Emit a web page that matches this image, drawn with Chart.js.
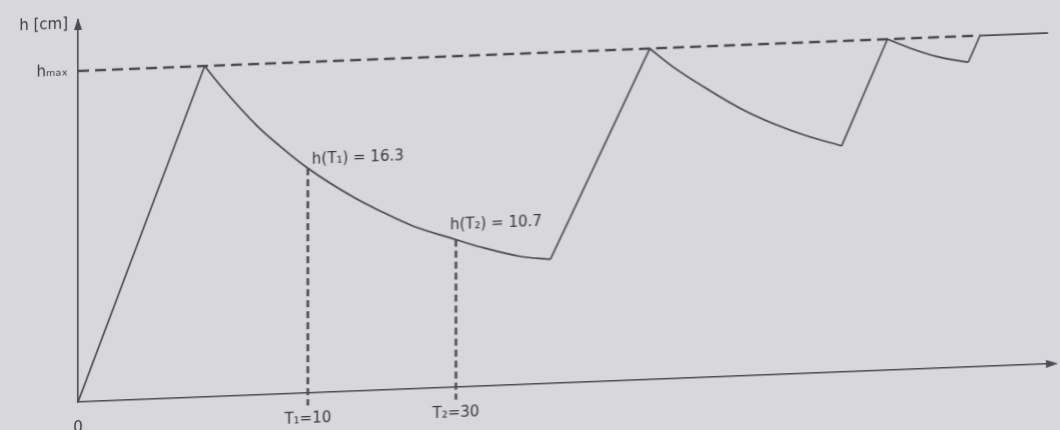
<!DOCTYPE html>
<html>
<head>
<meta charset="utf-8">
<script src="https://cdn.jsdelivr.net/npm/chart.js@4.4.1/dist/chart.umd.min.js"></script>
<style>
  html, body { margin: 0; width: 1060px; height: 430px; overflow: hidden; background: #d8d8dc; }
  /* the scan is slightly sheared: horizontals rise to the right, verticals stay vertical */
  #c { position: absolute; left: 0; top: 0; transform: skewY(-2.25deg); transform-origin: 78px 402px; }
</style>
</head>
<body>
<canvas id="c" width="1060" height="470"></canvas>
<script>
// water level h (cm) over schematic time axis (0..100 = axis length)
const curveT = [0, 13.0, 14.9, 18.4, 20.7, 23.6, 28.2, 31.0, 34.4, 38.8, 41.3, 45.4, 48.5,
                58.7, 61.1, 64.6, 68.0, 71.4, 74.9, 78.4,
                83.1, 85.4, 88.2, 91.4, 92.6, 99.6];
const curveH = [0, 24, 22.3, 19.5, 18.0, 16.3, 14.1, 13.0, 11.8, 10.7, 10.1, 9.3, 9.0,
                24, 22.6, 20.9, 19.4, 18.2, 17.2, 16.4,
                24, 23.3, 22.6, 22.1, 24, 24];

// h_max level and where the dashed line ends
const hMax = 24;
const hMaxEnd = 92.6;

// marked times T1, T2 and their levels
const tMarks = [23.6, 38.8];
const hMarks = [16.3, 10.7];
const markNames = ['T₁', 'T₂'];

// tick labels
const xTickVals = [0, ...tMarks];
const xTickLabels = ['0', 'T₁=10', 'T₂=30'];
const yTickVals = [hMax, 27.4];
const yTickLabels = ['hₘₐₓ', 'h [cm]'];

const lineColor = '#4b4b54';
const textColor = '#38383f';

// split the sawtooth into falling (curved) and rising (straight) pieces
const decayPts = [], risePts = [];
for (let i = 0; i < curveT.length - 1; i++) {
  const a = { x: curveT[i], y: curveH[i] }, b = { x: curveT[i + 1], y: curveH[i + 1] };
  const target = curveH[i + 1] < curveH[i] ? decayPts : risePts;
  const last = target[target.length - 1];
  if (last && last.x === a.x && last.y === a.y) target.push(b);
  else {
    if (last) target.push({ x: a.x, y: null });
    target.push(a, b);
  }
}

const markLines = [];
tMarks.forEach((t, i) => {
  markLines.push({
    data: [{ x: t, y: hMarks[i] }, { x: t, y: -0.9 }],
    borderColor: lineColor, borderWidth: 2.6, borderDash: [7, 4],
    pointRadius: 0, clip: false
  });
});

// notes, arrowheads
const extras = {
  id: 'extras',
  afterDraw(chart) {
    const { ctx, scales: { x, y } } = chart;
    ctx.save();
    ctx.fillStyle = textColor;
    ctx.font = '15px "DejaVu Sans"';
    ctx.textBaseline = 'middle';
    const dx = [4, -6], dy = [-8, -14];
    tMarks.forEach((t, i) => {
      ctx.fillText(`h(${markNames[i]}) = ${hMarks[i]}`, x.getPixelForValue(t) + dx[i], y.getPixelForValue(hMarks[i]) + dy[i]);
    });

    ctx.fillStyle = lineColor;
    // x arrow
    const ax = x.getPixelForValue(100), ay = y.getPixelForValue(0);
    ctx.beginPath();
    ctx.moveTo(ax + 6, ay); ctx.lineTo(ax - 6, ay - 4); ctx.lineTo(ax - 6, ay + 4); ctx.closePath(); ctx.fill();
    // y arrow
    const bx = x.getPixelForValue(0), by = y.getPixelForValue(y.max);
    ctx.beginPath();
    ctx.moveTo(bx, by - 2); ctx.lineTo(bx - 4, by + 10); ctx.lineTo(bx + 4, by + 10); ctx.closePath(); ctx.fill();
    ctx.restore();
  }
};

Chart.defaults.font.family = '"DejaVu Sans", sans-serif';
Chart.defaults.color = textColor;

new Chart(document.getElementById('c'), {
  type: 'line',
  data: {
    datasets: [
      { data: [{ x: 0, y: hMax }, { x: hMaxEnd, y: hMax }], borderColor: lineColor, borderWidth: 2.6, borderDash: [11, 6], pointRadius: 0 },
      ...markLines,
      { data: decayPts, borderColor: lineColor, borderWidth: 1.7, pointRadius: 0, cubicInterpolationMode: 'monotone', spanGaps: false },
      { data: risePts, borderColor: lineColor, borderWidth: 1.7, pointRadius: 0, tension: 0, spanGaps: false }
    ]
  },
  options: {
    responsive: false,
    devicePixelRatio: 1,
    animation: false,
    layout: { padding: { left: 0, right: 8, top: 20, bottom: 0 } },
    plugins: { legend: { display: false }, tooltip: { enabled: false } },
    scales: {
      x: {
        type: 'linear', min: 0, max: 100,
        grid: { display: false, drawTicks: false },
        border: { color: lineColor, width: 1.6 },
        afterFit: s => { s.height = 68; },
        afterBuildTicks: s => { s.ticks = xTickVals.map(v => ({ value: v })); },
        ticks: {
          autoSkip: false, maxRotation: 0, padding: 17,
          font: { size: 15 },
          callback: (v, i) => xTickLabels[i]
        }
      },
      y: {
        type: 'linear', min: 0, max: 27.7,
        grid: { display: false, drawTicks: false },
        border: { color: lineColor, width: 1.6 },
        afterFit: s => { s.width = 78; },
        afterBuildTicks: s => { s.ticks = yTickVals.map(v => ({ value: v })); },
        ticks: {
          autoSkip: false, padding: 10,
          font: { size: 15 },
          callback: (v, i) => yTickLabels[i]
        }
      }
    }
  },
  plugins: [extras]
});
</script>
</body>
</html>
